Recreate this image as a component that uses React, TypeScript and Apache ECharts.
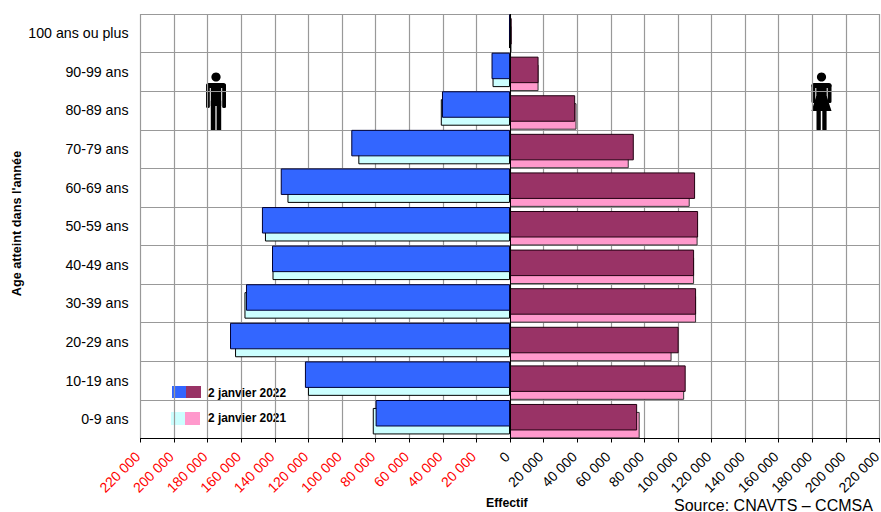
import React, { useEffect, useRef } from "react";
import * as echarts from "echarts";

const ageGroups = ["100 ans ou plus", "90-99 ans", "80-89 ans", "70-79 ans", "60-69 ans", "50-59 ans", "40-49 ans", "30-39 ans", "20-29 ans", "10-19 ans", "0-9 ans"];
const hommes2022 = [600, 11000, 40500, 94500, 136500, 147700, 141700, 157200, 166700, 122100, 80000];
const femmes2022 = [1000, 17000, 38800, 73700, 110200, 112000, 109600, 110800, 100400, 104600, 75700];
const hommes2021 = [600, 10400, 41200, 90300, 132500, 145900, 141400, 158100, 163700, 120300, 81700];
const femmes2021 = [900, 17000, 39600, 70700, 107000, 111700, 109600, 110800, 96200, 103700, 77200];

const FONT = "'Liberation Sans', Arial, sans-serif";
const fmt = (v: number) => String(Math.abs(v)).replace(/\B(?=(\d{3})+$)/g, " ");

const figure = (cx: number, female: boolean) => {
  const fill = "#000";
  const parts: any[] = [
    { type: "circle", shape: { cx, cy: 77, r: 4.6 }, style: { fill } },
    { type: "rect", shape: { x: cx - 10, y: 83, width: 20, height: 5, r: 2.5 }, style: { fill } },
    { type: "rect", shape: { x: cx - 10, y: 84, width: 3.8, height: female ? 19 : 24, r: 1.5 }, style: { fill } },
    { type: "rect", shape: { x: cx + 6.2, y: 84, width: 3.8, height: female ? 19 : 24, r: 1.5 }, style: { fill } },
  ];
  if (female) {
    parts.push(
      { type: "rect", shape: { x: cx - 5.2, y: 84, width: 10.4, height: 13 }, style: { fill } },
      { type: "polygon", shape: { points: [[cx - 5.2, 96], [cx + 5.2, 96], [cx + 10, 111], [cx - 10, 111]] }, style: { fill } },
      { type: "rect", shape: { x: cx - 5, y: 110, width: 4.3, height: 20.5, r: 1 }, style: { fill } },
      { type: "rect", shape: { x: cx + 0.8, y: 110, width: 4.3, height: 20.5, r: 1 }, style: { fill } }
    );
  } else {
    parts.push(
      { type: "rect", shape: { x: cx - 5.2, y: 84, width: 10.4, height: 22 }, style: { fill } },
      { type: "rect", shape: { x: cx - 5.2, y: 100, width: 4.6, height: 31, r: 1 }, style: { fill } },
      { type: "rect", shape: { x: cx + 0.6, y: 100, width: 4.6, height: 31, r: 1 }, style: { fill } }
    );
  }
  return parts;
};

export default function App() {
  const ref = useRef<HTMLDivElement>(null);
  useEffect(() => {
    const chart = echarts.init(ref.current!, null, { renderer: "svg" });
    const barStyle = (color: string, border: string) => ({ color, borderColor: border, borderWidth: 1 });
    const bar = (name: string, data: number[], sign: number, color: string, border: string, z: number) => ({
      name,
      type: "bar",
      data: data.map((v) => sign * v),
      barWidth: 26.5,
      barGap: "-85%",
      itemStyle: barStyle(color, border),
      z,
    });
    chart.setOption({
      animation: false,
      grid: { left: 140.5, right: 1.5, top: 14, bottom: 73.5, containLabel: false, outerBoundsMode: "none" },
      xAxis: {
        type: "value",
        min: -220000,
        max: 220000,
        interval: 20000,
        position: "bottom",
        axisLine: { show: true, lineStyle: { color: "#000", width: 1 } },
        axisTick: { show: true, length: 4, lineStyle: { color: "#000" } },
        splitLine: { show: true, lineStyle: { color: "#999999", width: 1.2 } },
        axisLabel: {
          rotate: 45,
          margin: 13,
          padding: [0, 4, 0, 0],
          fontFamily: FONT,
          fontSize: 14,
          hideOverlap: false,
          showMinLabel: true,
          showMaxLabel: true,
          color: (v: number) => (Number(v) < 0 ? "#ff0000" : "#000000"),
          formatter: (v: number) => fmt(v),
        },
      },
      yAxis: {
        type: "category",
        inverse: true,
        data: ageGroups,
        axisLine: { show: false, onZero: false },
        axisTick: { show: false },
        splitLine: { show: true, lineStyle: { color: "#999999", width: 1.2 } },
        axisLabel: { margin: 12, fontFamily: FONT, fontSize: 14.2, color: "#000" },
      },
      series: [
        {
          ...bar("Hommes 2022", hommes2022, -1, "#3366ff", "#000033", 5),
          markLine: {
            silent: true,
            symbol: "none",
            label: { show: false },
            lineStyle: { color: "#000", width: 1, type: "solid" },
            data: [{ xAxis: 0 }],
            z: 8,
          },
        },
        bar("Femmes 2022", femmes2022, 1, "#993366", "#220011", 5),
        bar("Hommes 2021", hommes2021, -1, "#ccffff", "#000000", 3),
        bar("Femmes 2021", femmes2021, 1, "#ff99cc", "#333333", 3),
      ],
      graphic: [
        { type: "group", silent: true, children: figure(216, false) },
        { type: "group", silent: true, children: figure(821.5, true) },
        { type: "rect", shape: { x: 172, y: 386, width: 14, height: 12 }, style: { fill: "#3366ff" } },
        { type: "rect", shape: { x: 186, y: 386, width: 15, height: 12 }, style: { fill: "#993366" } },
        { type: "rect", shape: { x: 171, y: 412, width: 14, height: 13 }, style: { fill: "#ccffff" } },
        { type: "rect", shape: { x: 185, y: 412, width: 15, height: 13 }, style: { fill: "#ff99cc" } },
        { type: "text", x: 17, y: 223.5, rotation: Math.PI / 2, style: { text: "Age atteint dans l'année", font: `bold 12.7px ${FONT}`, fill: "#000", align: "center", verticalAlign: "middle" } },
        { type: "text", x: 208, y: 393, style: { text: "2 janvier 2022", font: `bold 11.9px ${FONT}`, fill: "#000", verticalAlign: "middle" } },
        { type: "text", x: 208, y: 418, style: { text: "2 janvier 2021", font: `bold 11.9px ${FONT}`, fill: "#000", verticalAlign: "middle" } },
        { type: "text", x: 486, y: 503, style: { text: "Effectif", font: `bold 12.3px ${FONT}`, fill: "#000", verticalAlign: "middle" } },
        { type: "text", x: 674, y: 505, style: { text: "Source: CNAVTS – CCMSA", font: `16px ${FONT}`, fill: "#000", verticalAlign: "middle" } },
      ],
    });
    return () => chart.dispose();
  }, []);
  return <div ref={ref} style={{ position: "absolute", left: 0, top: 0, width: 881, height: 512, background: "#fff" }} />;
}
